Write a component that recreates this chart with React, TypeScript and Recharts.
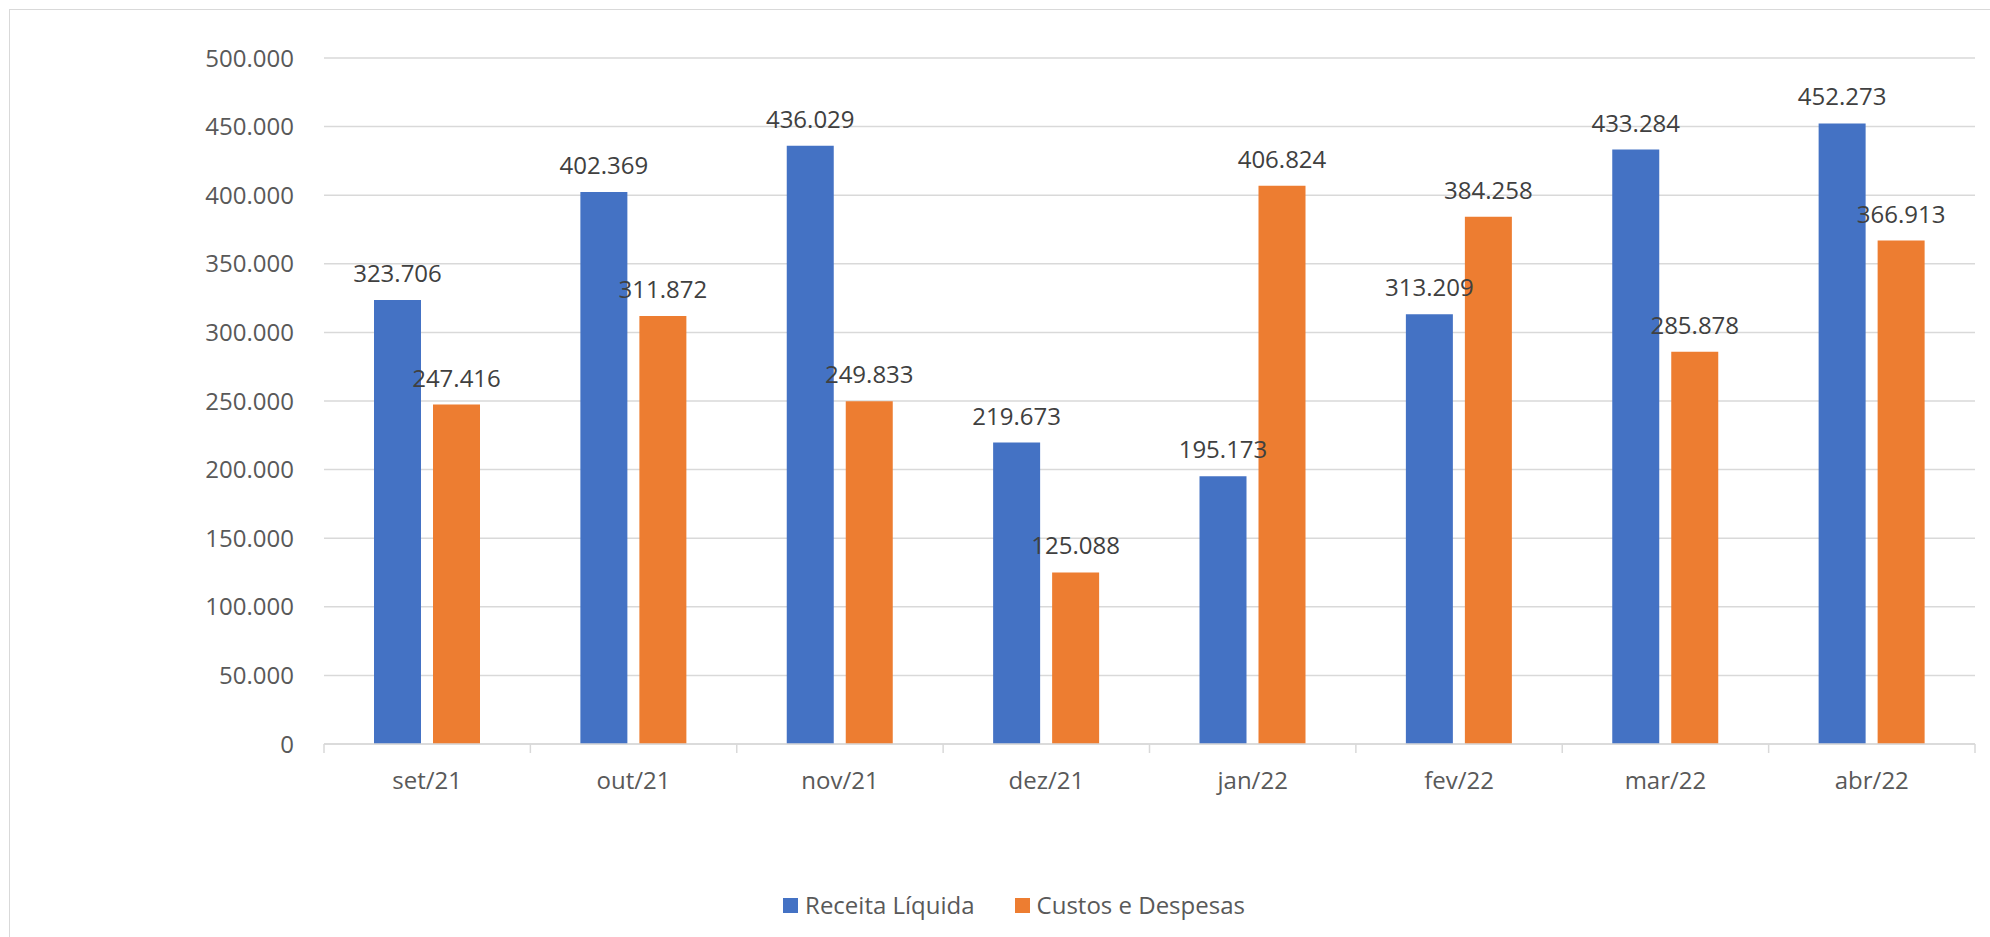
import { BarChart, Bar, XAxis, YAxis, CartesianGrid, LabelList } from "recharts";

const months = ["set/21", "out/21", "nov/21", "dez/21", "jan/22", "fev/22", "mar/22", "abr/22"];
const receitaLiquida = [323706, 402369, 436029, 219673, 195173, 313209, 433284, 452273];
const custosDespesas = [247416, 311872, 249833, 125088, 406824, 384258, 285878, 366913];
const yTicks = [0, 50000, 100000, 150000, 200000, 250000, 300000, 350000, 400000, 450000, 500000];

const BLUE = "#4472C4";
const ORANGE = "#ED7D31";
const GRID = "#d9d9d9";
const FONT = "'Open Sans', sans-serif";

// pt-BR style thousands separator
const fmt = (v: number) => (v === 0 ? "0" : String(v).replace(/\B(?=(\d{3})+(?!\d))/g, "."));

const data = months.map((m, i) => ({
    month: m,
    receita: receitaLiquida[i],
    custos: custosDespesas[i],
}));

// x tick: label plus the category separator marks (Excel style)
const MonthTick = (props: any) => {
    const { x, y, payload, index } = props;
    const half = payload.offset ?? 103.2;
    return (
        <g>
            <line x1={x - half} x2={x - half} y1={y} y2={y + 9} stroke={GRID} strokeWidth={1.5} />
            {index === months.length - 1 && (
                <line x1={x + half} x2={x + half} y1={y} y2={y + 9} stroke={GRID} strokeWidth={1.5} />
            )}
            <text x={x} y={y + 45} textAnchor="middle" fill="#595959" fontSize={24} fontFamily={FONT}>
                {payload.value}
            </text>
        </g>
    );
};

export default function App() {
    return (
        <div style={{ position: "fixed", left: 0, top: 0, width: 1990, height: 937, background: "#fff" }}>
            <div
                style={{
                    position: "absolute",
                    left: 9,
                    top: 9,
                    width: 1990,
                    height: 940,
                    border: `1.5px solid ${GRID}`,
                }}
            />
            <div style={{ position: "absolute", left: 0, top: 0 }}>
                <BarChart
                    width={1990}
                    height={937}
                    data={data}
                    margin={{ top: 58, right: 15, left: 0, bottom: 133 }}
                    barGap={12}
                    barSize={47}
                >
                    <CartesianGrid vertical={false} stroke={GRID} strokeWidth={1.5} />
                    <XAxis
                        dataKey="month"
                        height={60}
                        tickLine={false}
                        tickSize={0}
                        tickMargin={0}
                        axisLine={{ stroke: GRID, strokeWidth: 1.5 }}
                        tick={<MonthTick />}
                        interval={0}
                    />
                    <YAxis
                        width={324}
                        domain={[0, 500000]}
                        ticks={yTicks}
                        tickFormatter={fmt}
                        axisLine={false}
                        tickLine={false}
                        tickSize={0}
                        tickMargin={30}
                        tick={{ fontSize: 24, fill: "#595959", fontFamily: FONT }}
                    />
                    <Bar dataKey="receita" fill={BLUE} isAnimationActive={false}>
                        <LabelList
                            dataKey="receita"
                            position="top"
                            offset={18}
                            formatter={(v: any) => fmt(Number(v))}
                            style={{ fontSize: 24, fill: "#404040", fontFamily: FONT }}
                        />
                    </Bar>
                    <Bar dataKey="custos" fill={ORANGE} isAnimationActive={false}>
                        <LabelList
                            dataKey="custos"
                            position="top"
                            offset={18}
                            formatter={(v: any) => fmt(Number(v))}
                            style={{ fontSize: 24, fill: "#404040", fontFamily: FONT }}
                        />
                    </Bar>
                </BarChart>
            </div>
            <div
                style={{
                    position: "absolute",
                    top: 890,
                    left: 0,
                    width: 1990,
                    display: "flex",
                    justifyContent: "center",
                    alignItems: "center",
                    fontFamily: FONT,
                    fontSize: 24,
                    color: "#595959",
                    lineHeight: "30px",
                    paddingLeft: 38,
                    boxSizing: "border-box",
                }}
            >
                <span style={{ display: "inline-block", width: 15, height: 15, background: BLUE, marginRight: 7 }} />
                <span style={{ marginRight: 40 }}>Receita Líquida</span>
                <span style={{ display: "inline-block", width: 15, height: 15, background: ORANGE, marginRight: 7 }} />
                <span>Custos e Despesas</span>
            </div>
        </div>
    );
}
